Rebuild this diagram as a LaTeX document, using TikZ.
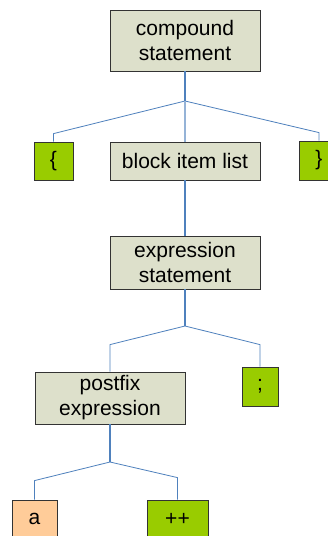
\documentclass[tikz,border=0pt]{standalone}
\usepackage{fontspec}
\setmainfont{Liberation Sans}
\usetikzlibrary{shadows}

\definecolor{rulebox}{RGB}{221,224,203}
\definecolor{tokbox}{RGB}{153,204,0}
\definecolor{idbox}{RGB}{255,204,153}
\definecolor{treeline}{RGB}{79,129,189}
\definecolor{treelight}{RGB}{149,179,215}

\tikzset{
  box/.style={draw=black!80, line width=0.8pt, inner sep=0pt, align=center,
    font=\fontsize{21}{25}\selectfont,
    drop shadow={shadow xshift=0.8pt, shadow yshift=-0.8pt, fill=black!35}},
  rule/.style={box, fill=rulebox, minimum width=150pt},
  tok/.style={box, fill=tokbox},
  stem/.style={draw=treeline, line width=1.6pt},
  branch/.style={draw=treeline, line width=0.8pt}
}

\begin{document}
\begin{tikzpicture}[x=1pt, y=-1pt]
\useasboundingbox[fill=white] (0,0) rectangle (328,536);

\node[rule, minimum height=61pt] (cs) at (185,40.5) {compound\\statement};
\node[tok, minimum width=39pt, minimum height=38pt] (lb) at (53.5,161) {\{};
\node[rule, minimum height=38pt] (bil) at (185,161) {block item list};
\node[tok, minimum width=39pt, minimum height=39pt] (rb) at (319,160.5) {\}};
\node[rule, minimum height=53pt] (es) at (185,262.5) {expression\\statement};
\node[rule, minimum height=52pt] (pe) at (110,398) {postfix\\expression};
\node[tok, minimum width=36pt, minimum height=39pt] (semi) at (260,386.5) {;};
\node[box, fill=idbox, minimum width=45pt, minimum height=38pt] (a) at (34.5,519) {a};
\node[tok, minimum width=61pt, minimum height=38pt] (pp) at (177.5,519) {++};

% compound statement
\coordinate (j1) at (185,101);
\draw[stem] (cs) -- (j1);
\draw[branch] (j1) -- ([yshift=8pt]lb.north) -- (lb.north);
\draw[branch] (j1) -- ([yshift=8pt]rb.north) -- (rb.north);
\draw[treelight, line width=1.4pt] (j1) -- (bil.north);

% block item list
\draw[stem] (bil) -- (es);

% expression statement
\coordinate (j2) at (185,326);
\draw[stem] (es) -- (j2);
\draw[branch] (j2) -- ([yshift=27pt]pe.north) -- (pe.north);
\draw[branch] (j2) -- ([yshift=22pt]semi.north) -- (semi.north);

% postfix expression
\coordinate (j3) at (110,462);
\draw[stem] (pe) -- (j3);
\draw[branch] (j3) -- ([yshift=19pt]a.north) -- (a.north);
\draw[branch] (j3) -- ([yshift=22pt]pp.north) -- (pp.north);
\end{tikzpicture}
\end{document}
